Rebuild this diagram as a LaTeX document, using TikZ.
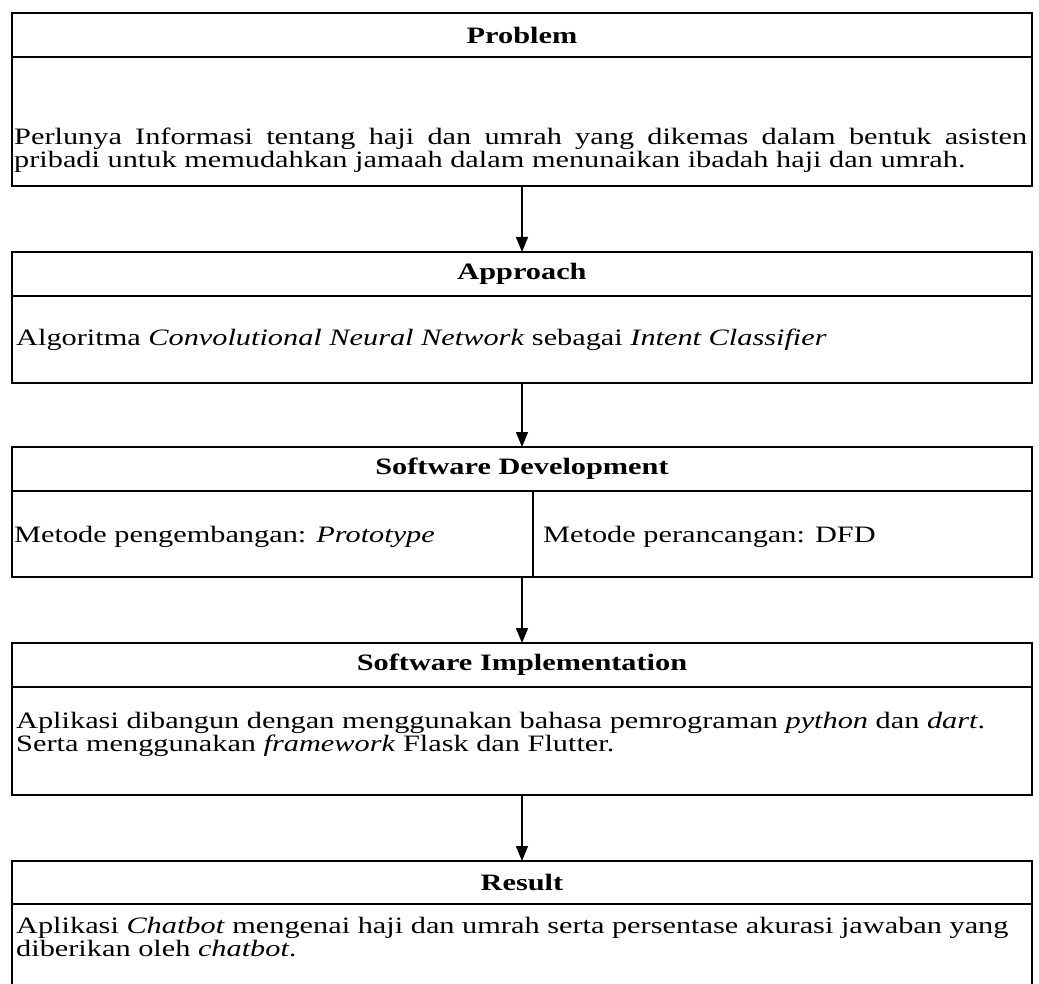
\documentclass[tikz,border=0pt]{standalone}
\usepackage{fontspec}
\setmainfont{Liberation Serif}[FakeStretch=1.29]
\usepackage{tikz}
\usetikzlibrary{arrows.meta, positioning, calc}
\hyphenpenalty=10000
\exhyphenpenalty=10000
\tolerance=9999
\newcommand{\bodyfont}{\fontsize{23.5}{22.5}\selectfont}
\tikzset{
  hdrbox/.style={rectangle,draw=black,line width=1.6pt,outer sep=0pt,inner sep=0pt,
    minimum width=1020pt,minimum height=44pt,font=\bodyfont\bfseries},
  bodybox/.style={rectangle,draw=black,line width=1.6pt,outer sep=0pt,inner sep=0pt,
    minimum width=1020pt},
  bodytext/.style={inner sep=0pt,anchor=north west,font=\bodyfont},
  arrow/.style={-{Triangle[length=15pt,width=12pt]},line width=1.4pt,color=black}
}

\begin{document}
\begin{tikzpicture}[x=1pt,y=-1pt]
  \useasboundingbox (0,0) rectangle (1039,984);
  \clip (0,0) rectangle (1039,984);
  \node[hdrbox] (phdr) at (522,35) {Problem};
  \node[bodybox,below=0pt of phdr,minimum height=129pt] (pbody) {};
  \node[hdrbox,below=66pt of pbody] (ahdr) {Approach};
  \node[bodybox,below=0pt of ahdr,minimum height=87pt] (abody) {};
  \node[hdrbox,below=64pt of abody] (shdr) {Software Development};
  \node[bodybox,below=0pt of shdr,minimum height=86pt] (sbody) {};
  \node[hdrbox,below=66pt of sbody] (ihdr) {Software Implementation};
  \node[bodybox,below=0pt of ihdr,minimum height=108pt] (ibody) {};
  \node[hdrbox,below=66pt of ibody,minimum height=43pt] (rhdr) {Result};
  \node[bodybox,below=0pt of rhdr,minimum height=110pt] (rbody) {};
  \draw[line width=1.6pt] ([xshift=11pt]sbody.north) -- ([xshift=11pt]sbody.south);
  \node[bodytext,text width=1013pt,align=justify] (ptxt) at ([xshift=2pt,yshift=-71pt]pbody.north west)
    {Perlunya Informasi tentang haji dan umrah yang dikemas dalam bentuk asisten\linebreak pribadi untuk memudahkan jamaah dalam menunaikan ibadah haji dan umrah.};
  \node[bodytext] (atxt) at ([xshift=4pt,yshift=-33pt]abody.north west)
    {Algoritma \textit{Convolutional Neural Network} sebagai \textit{Intent Classifier}};
  \node[bodytext] (stxtl) at ([xshift=2pt,yshift=-35pt]sbody.north west)
    {Metode pengembangan: \textit{Prototype}};
  \node[bodytext] (stxtr) at ([xshift=21pt,yshift=-35pt]sbody.north)
    {Metode perancangan: DFD};
  \node[bodytext,align=left] (itxt) at ([xshift=4pt,yshift=-25pt]ibody.north west)
    {Aplikasi dibangun dengan menggunakan bahasa pemrograman \textit{python} dan \textit{dart}.\\
     Serta menggunakan \textit{framework} Flask dan Flutter.};
  \node[bodytext,align=left] (rtxt) at ([xshift=4pt,yshift=-13pt]rbody.north west)
    {Aplikasi \textit{Chatbot} mengenai haji dan umrah serta persentase akurasi jawaban yang\\
     diberikan oleh \textit{chatbot}.};
  \foreach \a/\b in {pbody/ahdr,abody/shdr,sbody/ihdr,ibody/rhdr} \draw[arrow] (\a)--(\b);
\end{tikzpicture}
\end{document}
